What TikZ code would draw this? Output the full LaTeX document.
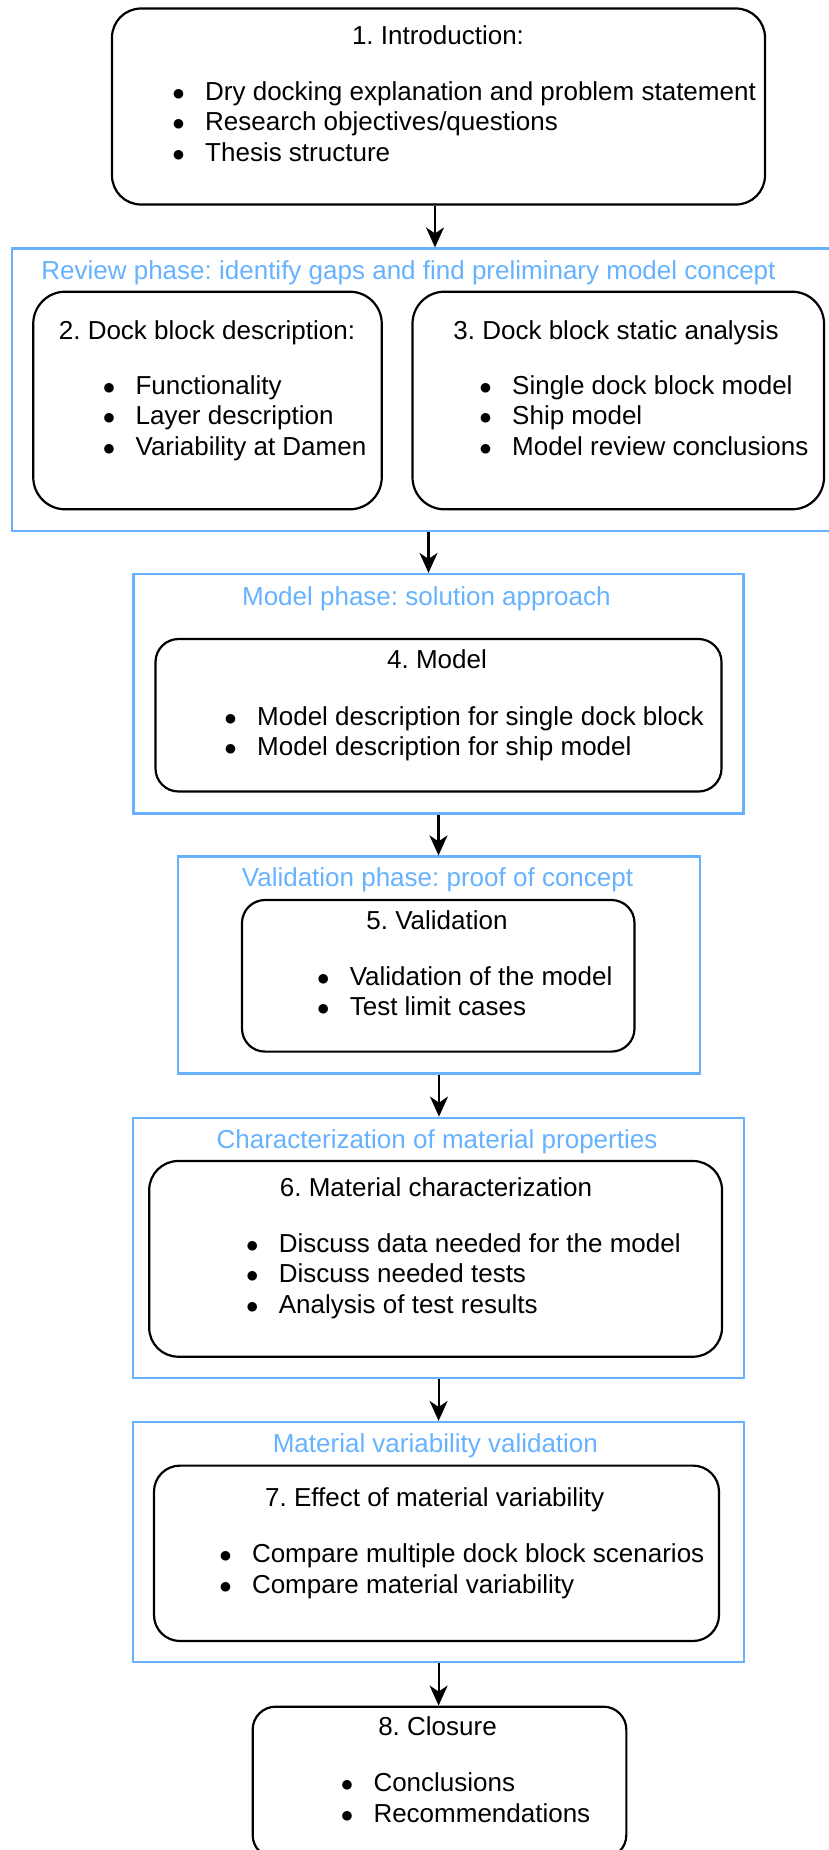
\documentclass[tikz,border=0pt]{standalone}
\usepackage{fontspec}
\setmainfont{Liberation Sans}
\usetikzlibrary{arrows.meta}
\definecolor{phaseblue}{HTML}{66B2FF}
\frenchspacing
\newcommand{\itm}{\llap{$\bullet$\hspace{20.3pt}}}
\newcommand{\bulletlist}[1]{\begin{tabular}[t]{@{}l@{}}#1\end{tabular}}

\begin{document}
\begin{tikzpicture}[x=1pt, y=-1pt,
    font=\fontsize{26}{30.5}\selectfont,
    chapter/.style={draw, line width=2.2pt, rounded corners=#1, inner sep=0pt},
    chapter/.default=28pt,
    phase/.style={draw=phaseblue, line width=2.2pt, inner sep=0pt},
    heading/.style={inner sep=0pt, anchor=base},
    phasetitle/.style={heading, text=phaseblue},
    bullets/.style={inner sep=0pt, anchor=base west},
    flow/.style={-{Stealth[length=20pt, width=18pt, inset=6pt]}, line width=2.2pt}]
    \useasboundingbox (0,0) rectangle (829,1850);
    \clip (0,0) rectangle (829,1850);

    % 1. Introduction
    \node[chapter=29pt, minimum width=653pt, minimum height=196pt] (intro) at (438.5,106.5) {};
    \node[heading] (intro-title) at (438,44.3) {1. Introduction:};
    \node[bullets] (intro-list) at (205,100) {\bulletlist{\itm Dry docking explanation and problem statement\\
      \itm Research objectives/questions\\ \itm Thesis structure}};

    % review phase
    \node[phase, minimum width=828pt, minimum height=282.5pt] (review) at (425.6,389.75) {};
    \node[phasetitle, anchor=base west] (review-title) at (41.2,279.3) {Review phase: identify gaps and find preliminary model concept};
    \node[chapter=32pt, minimum width=348.5pt, minimum height=217.6pt] (blocks) at (207.5,400.5) {};
    \node[heading] (blocks-title) at (207,339) {2. Dock block description:};
    \node[bullets] (blocks-list) at (135.4,394.3) {\bulletlist{\itm Functionality\\ \itm Layer description\\ \itm Variability at Damen}};
    \node[chapter=32pt, minimum width=411.5pt, minimum height=217.6pt] (static) at (618.25,400.5) {};
    \node[heading] (static-title) at (616,339) {3. Dock block static analysis};
    \node[bullets] (static-list) at (512,394.3) {\bulletlist{\itm Single dock block model\\ \itm Ship model\\ \itm Model review conclusions}};

    % model phase
    \node[phase, minimum width=610pt, minimum height=239.5pt] (modelphase) at (438.5,693.75) {};
    \node[phasetitle] (modelphase-title) at (426.4,605) {Model phase: solution approach};
    \node[chapter=23pt, minimum width=566pt, minimum height=152.5pt] (model) at (438.5,715.25) {};
    \node[heading] (model-title) at (437,668.5) {4. Model};
    \node[bullets] (model-list) at (257,725) {\bulletlist{\itm Model description for single dock block\\ \itm Model description for ship model}};

    % validation phase
    \node[phase, minimum width=522pt, minimum height=217pt] (valphase) at (439,965) {};
    \node[phasetitle] (valphase-title) at (437.5,886.7) {Validation phase: proof of concept};
    \node[chapter=23pt, minimum width=392.5pt, minimum height=151.6pt] (validation) at (438.25,975.8) {};
    \node[heading] (validation-title) at (437,929) {5. Validation};
    \node[bullets] (validation-list) at (349.6,985) {\bulletlist{\itm Validation of the model\\ \itm Test limit cases}};

    % characterization
    \node[phase, minimum width=610.8pt, minimum height=260.6pt] (charphase) at (438.6,1248) {};
    \node[phasetitle] (charphase-title) at (437,1148.4) {Characterization of material properties};
    \node[chapter=29pt, minimum width=572.8pt, minimum height=195.7pt] (material) at (435.6,1258.85) {};
    \node[heading] (material-title) at (436,1196.7) {6. Material characterization};
    \node[bullets] (material-list) at (278.7,1252.4) {\bulletlist{\itm Discuss data needed for the model\\
      \itm Discuss needed tests\\ \itm Analysis of test results}};

    % material variability
    \node[phase, minimum width=610.8pt, minimum height=240pt] (varphase) at (438.6,1542) {};
    \node[phasetitle] (varphase-title) at (435.4,1452) {Material variability validation};
    \node[chapter=26pt, minimum width=565pt, minimum height=175.4pt] (effect) at (436.5,1553.3) {};
    \node[heading] (effect-title) at (434.7,1506.7) {7. Effect of material variability};
    \node[bullets] (effect-list) at (251.8,1562.7) {\bulletlist{\itm Compare multiple dock block scenarios\\ \itm Compare material variability}};

    % 8. Closure
    \node[chapter=23pt, minimum width=373.7pt, minimum height=151.3pt] (closure) at (439.5,1782.3) {};
    \node[heading] (closure-title) at (437.5,1735) {8. Closure};
    \node[bullets] (closure-list) at (373.3,1791.7) {\bulletlist{\itm Conclusions\\ \itm Recommendations}};

    % arrows
    \draw[flow] ([xshift=-3.5pt]intro.south) -- ([xshift=-3.5pt]intro.south |- review.north);
    \draw[flow] ([xshift=-10pt]modelphase.north |- review.south) -- ([xshift=-10pt]modelphase.north);
    \draw[flow] (modelphase.south) -- (modelphase.south |- valphase.north);
    \draw[flow] (valphase.south) -- (valphase.south |- charphase.north);
    \draw[flow] (charphase.south) -- (charphase.south |- varphase.north);
    \draw[flow] (varphase.south) -- (varphase.south |- closure.north);
\end{tikzpicture}
\end{document}
